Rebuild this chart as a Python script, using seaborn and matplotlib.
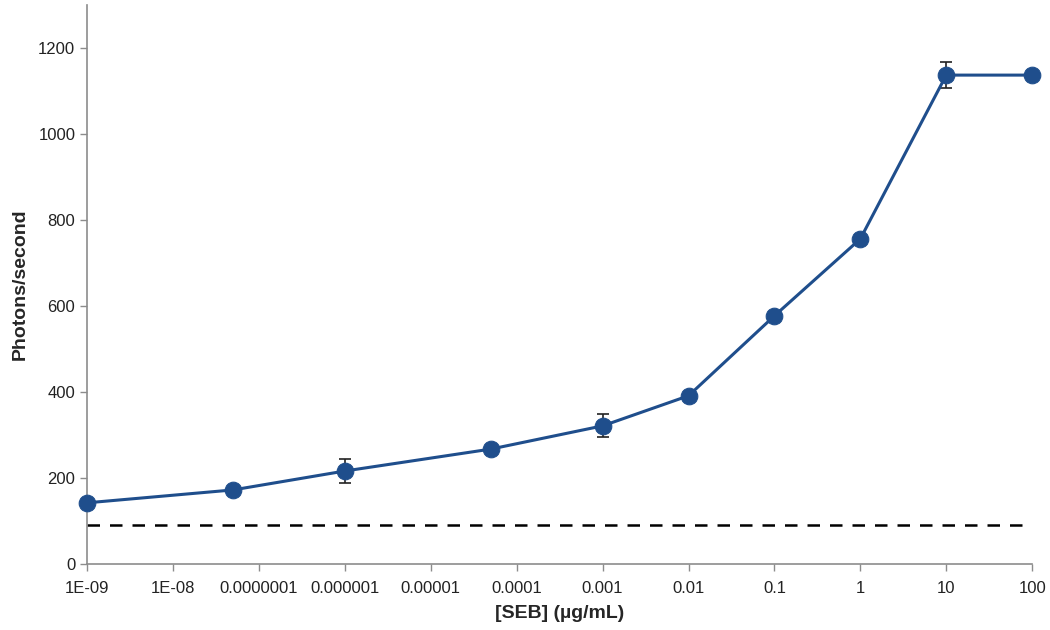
import numpy as np
import pandas as pd
import matplotlib
matplotlib.use("Agg")
import matplotlib.pyplot as plt
import matplotlib.ticker as mticker
import seaborn as sns

# Data
seb_conc = [1e-9, 5e-8, 1e-6, 5e-5, 1e-3, 1e-2, 1e-1, 1, 10, 100]
photons = [142, 172, 216, 267, 321, 391, 577, 756, 1137, 1137]
photons_err = [4, 6, 29, 8, 27, 6, 8, 8, 31, 5]
background = 91

tick_vals = [1e-9, 1e-8, 1e-7, 1e-6, 1e-5, 1e-4, 1e-3, 1e-2, 1e-1, 1, 10, 100]
tick_labels = ["1E-09", "1E-08", "0.0000001", "0.000001", "0.00001", "0.0001",
               "0.001", "0.01", "0.1", "1", "10", "100"]

df = pd.DataFrame({"conc": seb_conc, "photons": photons, "err": photons_err})

sns.set_style("white")
plt.rcParams["font.family"] = ["Liberation Sans", "DejaVu Sans"]

fig = plt.figure(figsize=(10.5, 6.3), dpi=100)
ax = fig.add_axes([0.083, 0.105, 0.9, 0.887])

line_color = "#1f4e8c"

# error bars behind the line
eb = ax.errorbar(df["conc"], df["photons"], yerr=df["err"], fmt="none",
                 ecolor="#222222", elinewidth=1.2, capsize=4, capthick=1.2, zorder=2)
for art in eb.get_children():
    art.set_clip_on(False)

sns.lineplot(data=df, x="conc", y="photons", ax=ax, color=line_color,
             linewidth=2.2, marker="o", markersize=12, markeredgecolor=line_color,
             zorder=3, clip_on=False)

ax.axhline(background, color="black", linestyle=(0, (5, 4)), linewidth=1.8, zorder=1)

ax.set_xscale("log")
ax.set_xlim(1e-9, 100)
ax.set_ylim(0, 1300)
ax.set_xticks(tick_vals)
ax.set_xticklabels(tick_labels)
ax.xaxis.set_minor_locator(mticker.NullLocator())
ax.set_yticks(range(0, 1201, 200))

ax.set_xlabel("[SEB] (µg/mL)", fontsize=14, fontweight="bold", labelpad=7)
ax.set_ylabel("Photons/second", fontsize=14, fontweight="bold", labelpad=7)

for s in ["top", "right"]:
    ax.spines[s].set_visible(False)
for s in ["left", "bottom"]:
    ax.spines[s].set_color("#8c8c8c")
    ax.spines[s].set_linewidth(1.2)

ax.tick_params(axis="both", which="major", direction="out", length=5, width=1,
               color="#8c8c8c", labelsize=12, labelcolor="#222222", bottom=True, left=True)
ax.tick_params(axis="x", pad=7)

fig.savefig("out.png", dpi=100)
